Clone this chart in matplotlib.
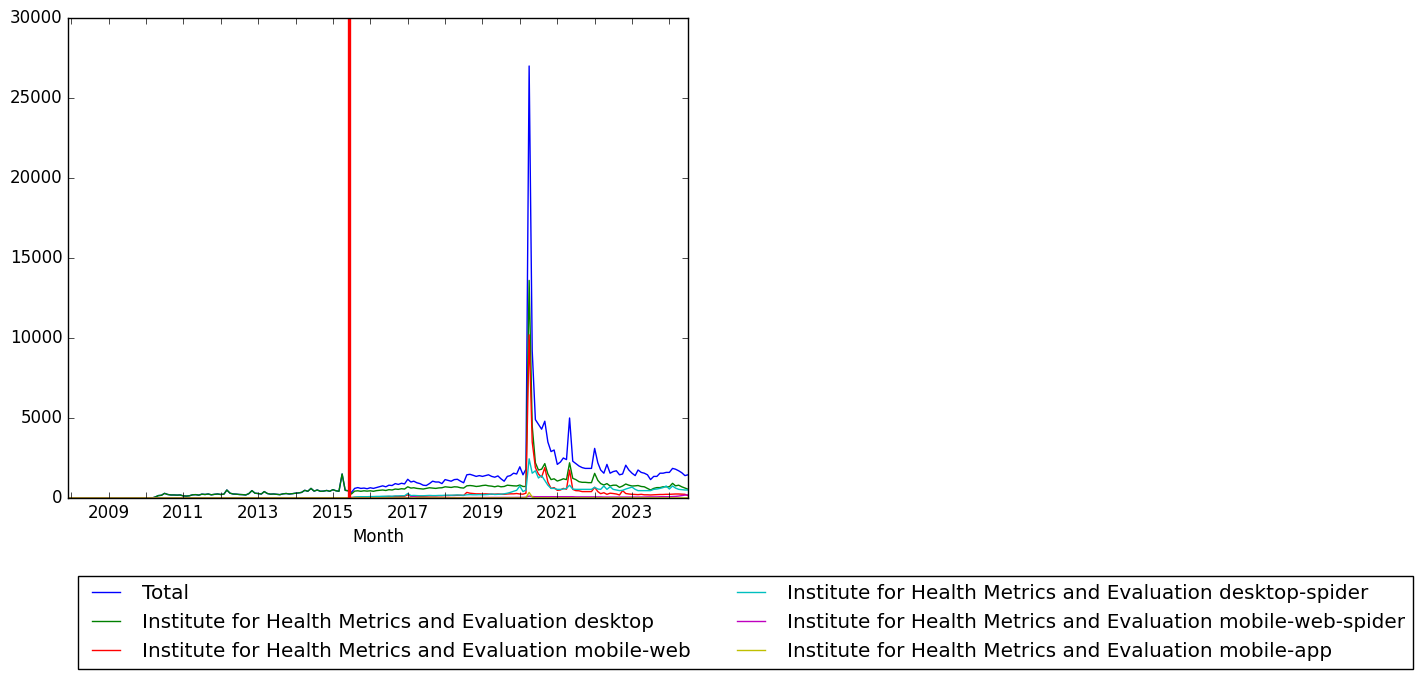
import matplotlib
matplotlib.use("Agg")
import matplotlib.pyplot as plt
import matplotlib.dates as mdates
import matplotlib.ticker as mticker
import pandas as pd
import numpy as np
from datetime import datetime

plt.style.use('classic')

# ---------------- data ----------------
months = pd.date_range('2007-12-01', '2024-07-01', freq='MS')

# legacy (pre-July-2015) monthly views: total == desktop
legacy_views = [0] * 28 + [
    60, 150, 170, 290, 220, 190, 190, 180, 190,              # 2010-04..2010-12
    130, 120, 140, 200, 210, 180, 240, 220, 250, 200, 230, 250,  # 2011
    220, 240, 500, 300, 250, 240, 220, 210, 190, 270, 460, 300,  # 2012
    280, 250, 400, 280, 240, 250, 230, 210, 260, 280, 250, 270,  # 2013
    300, 320, 350, 480, 420, 600, 430, 500, 420, 430, 470, 420,  # 2014
    520, 450, 420, 1500, 480, 450,                            # 2015-01..06
]

total_post = [
    350, 600, 650, 600, 620, 580,
    640, 600, 650, 700, 760, 700, 800, 780, 900, 850, 920, 880,
    1170, 1000, 1050, 950, 900, 800, 780, 900, 1050, 1000, 1000, 900,
    1150, 1100, 1050, 1150, 1170, 1050, 950, 1450, 1480, 1420, 1350, 1400,
    1350, 1400, 1450, 1350, 1300, 1380, 1200, 1050, 1350, 1400, 1550, 1500,
    1950, 1450, 1800, 27000, 9200, 4900, 4600, 4300, 4800, 3500, 2900, 3000,
    2100, 2250, 2500, 2400, 5000, 2300, 2150, 2000, 1900, 1850, 1850, 1850,
    3100, 2200, 1750, 1550, 2100, 1550, 1650, 1700, 1450, 1500, 2050, 1750,
    1550, 1400, 1750, 1600, 1550, 1450, 1150, 1350, 1350, 1550, 1550, 1600,
    1600, 1850, 1800, 1700, 1580, 1400, 1450,
]

desktop_post = [
    250, 430, 450, 420, 450, 430,
    450, 420, 460, 480, 500, 470, 520, 500, 560, 540, 580, 560,
    700, 620, 640, 600, 580, 560, 600, 640, 620, 600, 630, 640,
    700, 680, 660, 700, 690, 640, 620, 760, 780, 760, 720, 740,
    780, 800, 760, 740, 700, 750, 700, 720, 800, 780, 760, 750,
    810, 720, 720, 13600, 4500, 2200, 1750, 1800, 2150, 1500, 1150, 1200,
    1060, 1125, 1200, 1150, 2200, 1230, 1150, 1020, 980, 980, 960, 960,
    1540, 1100, 900, 812, 900, 750, 800, 800, 667, 750, 875, 800,
    750, 760, 780, 720, 700, 600, 500, 600, 650, 650, 700, 700,
    700, 917, 760, 800, 700, 620, 550,
]

mobile_web_post = [
    30, 40, 50, 50, 60, 60,
    70, 70, 80, 80, 80, 90, 90, 90, 100, 100, 110, 110,
    200, 120, 120, 120, 110, 110, 120, 130, 130, 130, 140, 140,
    150, 150, 160, 160, 170, 170, 160, 350, 300, 280, 260, 260,
    250, 260, 250, 240, 240, 250, 240, 230, 250, 260, 260, 280,
    250, 240, 300, 10200, 3500, 1900, 1500, 1300, 1900, 1000, 600, 650,
    480, 500, 600, 550, 1750, 540, 460, 450, 400, 400, 400, 400,
    667, 400, 270, 330, 230, 300, 280, 250, 190, 460, 280, 250,
    230, 220, 210, 230, 200, 200, 190, 200, 210, 220, 220, 230,
    230, 240, 250, 250, 240, 230, 150,
]

desktop_spider_post = [
    20, 60, 70, 80, 80, 80,
    90, 90, 100, 100, 110, 110, 120, 110, 130, 130, 140, 140,
    280, 150, 160, 150, 140, 140, 150, 160, 150, 150, 160, 160,
    170, 180, 170, 180, 190, 180, 170, 200, 210, 200, 200, 210,
    200, 210, 220, 250, 220, 230, 240, 260, 300, 350, 420, 480,
    750, 400, 500, 2450, 1550, 1700, 1250, 1400, 1100, 800, 600, 600,
    540, 540, 560, 600, 800, 560, 540, 540, 540, 540, 540, 540,
    670, 560, 540, 750, 540, 700, 540, 500, 460, 480, 560, 620,
    680, 540, 460, 460, 460, 460, 460, 540, 560, 600, 650, 750,
    560, 750, 620, 540, 520, 500, 500,
]

mobile_web_spider_post = [
    5, 10, 10, 10, 10, 10,
    10, 10, 10, 15, 15, 15, 20, 20, 20, 20, 20, 20,
    20, 60, 80, 40, 20, 20, 20, 20, 20, 20, 20, 20,
    20, 20, 25, 25, 25, 25, 25, 30, 30, 30, 30, 30,
    30, 30, 30, 30, 30, 30, 30, 30, 35, 35, 35, 40,
    40, 40, 50, 120, 90, 80, 80, 80, 80, 80, 80, 80,
    80, 80, 80, 80, 80, 80, 70, 70, 70, 70, 70, 70,
    70, 70, 70, 60, 60, 60, 60, 60, 60, 60, 60, 60,
    60, 60, 60, 60, 60, 70, 70, 70, 70, 80, 80, 80,
    80, 90, 100, 120, 150, 180, 200,
]

mobile_app_post = [
    0, 0, 0, 0, 0, 0,
    2, 2, 2, 2, 2, 2, 2, 2, 2, 2, 2, 2,
    3, 3, 3, 3, 3, 3, 3, 3, 3, 3, 3, 3,
    4, 4, 4, 4, 4, 4, 4, 4, 4, 4, 4, 4,
    5, 5, 5, 5, 5, 5, 5, 5, 5, 5, 5, 5,
    5, 5, 30, 350, 60, 10, 8, 8, 8, 8, 8, 8,
    6, 6, 6, 6, 6, 6, 6, 6, 6, 6, 6, 6,
    5, 5, 5, 5, 5, 5, 5, 5, 5, 5, 5, 5,
    5, 5, 5, 5, 5, 5, 5, 5, 5, 5, 5, 5,
    5, 5, 5, 5, 5, 5, 5,
]

pre_zero = [0] * len(legacy_views)

series_labels = [
    'Total',
    'Institute for Health Metrics and Evaluation desktop',
    'Institute for Health Metrics and Evaluation mobile-web',
    'Institute for Health Metrics and Evaluation desktop-spider',
    'Institute for Health Metrics and Evaluation mobile-web-spider',
    'Institute for Health Metrics and Evaluation mobile-app',
]
series_values = [
    legacy_views + total_post,
    legacy_views + desktop_post,
    pre_zero + mobile_web_post,
    pre_zero + desktop_spider_post,
    pre_zero + mobile_web_spider_post,
    pre_zero + mobile_app_post,
]
series_colors = ['b', 'g', 'r', 'c', 'm', 'y']

cutoff_date = datetime(2015, 6, 10)
y_ticks = [0, 5000, 10000, 15000, 20000, 25000, 30000]
tick_years = list(range(2008, 2025))
labelled_years = [2009, 2011, 2013, 2015, 2017, 2019, 2021, 2023]

# ---------------- figure ----------------
DPI = 100
fig = plt.figure(figsize=(1423 / DPI, 679 / DPI), dpi=DPI, facecolor='white')
ax = fig.add_axes([68 / 1423, 1 - 498 / 679, 620 / 1423, 480 / 679])

for vals, lab, col in zip(series_values, series_labels, series_colors):
    ax.plot(months, vals, color=col, label=lab, lw=1.0)

ax.axvline(cutoff_date, color='r', lw=2.4)

ax.set_xlim(months[0], months[-1])
ax.set_ylim(0, 30000)
ax.set_yticks(y_ticks)
ax.yaxis.set_major_formatter(mticker.FormatStrFormatter('%d'))

tick_pos = [mdates.date2num(datetime(y, 1, 1)) for y in tick_years]
ax.xaxis.set_major_locator(mticker.FixedLocator(tick_pos))
ax.xaxis.set_major_formatter(mticker.FixedFormatter(
    [str(y) if y in labelled_years else '' for y in tick_years]))
ax.set_xlabel('Month')

fig.legend(loc='upper left', bbox_to_anchor=(78 / 1423, 1 - 576 / 679),
           bbox_transform=fig.transFigure, ncol=2, fontsize=14.4,
           borderaxespad=0.0)

fig.savefig('out.png', dpi=DPI, facecolor='white')
